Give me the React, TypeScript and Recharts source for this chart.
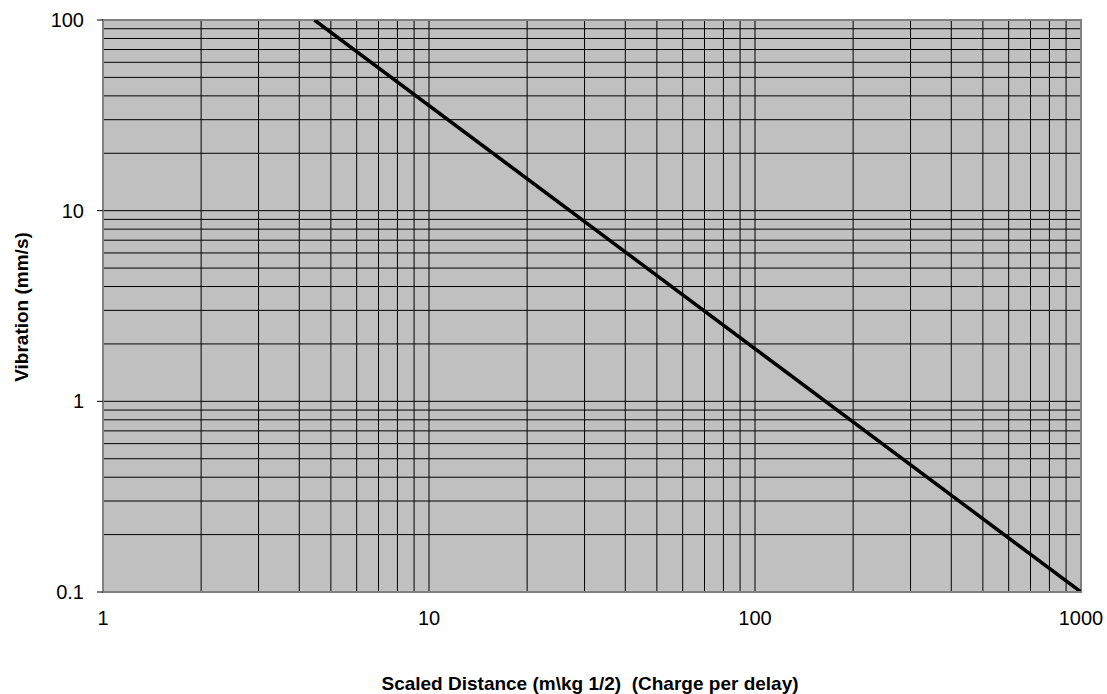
import {
  LineChart,
  Line,
  XAxis,
  YAxis,
  CartesianGrid,
  ReferenceArea,
} from "recharts";

// scaled distance (m\kg 1/2) vs vibration (mm/s), straight line on log-log
const distance = [4.45, 1000];
const vibration = [100, 0.1];

const xTicks = [1, 10, 100, 1000];
const yTicks = [0.1, 1, 10, 100];

const xGrid = [
  1, 2, 3, 4, 5, 6, 7, 8, 9, 10,
  20, 30, 40, 50, 60, 70, 80, 90, 100,
  200, 300, 400, 500, 600, 700, 800, 900, 1000,
];
const yGrid = [
  0.1, 0.2, 0.3, 0.4, 0.5, 0.6, 0.7, 0.8, 0.9, 1,
  2, 3, 4, 5, 6, 7, 8, 9, 10,
  20, 30, 40, 50, 60, 70, 80, 90, 100,
];

const chartData = distance.map((sd, i) => ({ sd, v: vibration[i] }));

const font = "'Liberation Sans', Arial, sans-serif";

export default function App() {
  return (
    // pinned to the page corner so the body margin adds no scrollbar
    <div
      style={{
        position: "absolute",
        left: 0,
        top: 0,
        width: 1107,
        height: 694,
        background: "#fff",
        fontFamily: font,
      }}
    >
      <LineChart
        width={1107}
        height={694}
        data={chartData}
        margin={{ top: 20, right: 26, bottom: 0, left: 0 }}
      >
        <CartesianGrid
          fill="#c0c0c0"
          stroke="#000"
          strokeWidth={1}
          horizontalValues={yGrid}
          verticalValues={xGrid}
        />
        <XAxis
          dataKey="sd"
          type="number"
          scale="log"
          domain={[1, 1000]}
          ticks={xTicks}
          allowDataOverflow
          height={102}
          tickLine={false}
          tickSize={0}
          tickMargin={19}
          axisLine={{ stroke: "#808080", strokeWidth: 2 }}
          tick={{ fill: "#000", fontSize: 20, fontFamily: font }}
          interval={0}
          label={{
            content: () => (
              <text
                x={590}
                y={690}
                textAnchor="middle"
                fontWeight="bold"
                fontSize={19}
                fontFamily={font}
                fill="#000"
                style={{ whiteSpace: "pre" }}
              >
                {"Scaled Distance (m\\kg 1/2)  (Charge per delay)"}
              </text>
            ),
          }}
        />
        <YAxis
          type="number"
          scale="log"
          domain={[0.1, 100]}
          ticks={yTicks}
          allowDataOverflow
          width={103}
          tickSize={6}
          tickMargin={13}
          tickLine={{ stroke: "#000" }}
          axisLine={{ stroke: "#808080", strokeWidth: 2 }}
          tick={{ fill: "#000", fontSize: 20, fontFamily: font }}
          tickFormatter={(v) => String(v)}
          interval={0}
          label={{
            content: () => (
              <text
                x={28}
                y={307}
                transform="rotate(-90, 28, 307)"
                textAnchor="middle"
                fontWeight="bold"
                fontSize={19}
                fontFamily={font}
                fill="#000"
              >
                Vibration (mm/s)
              </text>
            ),
          }}
        />
        <ReferenceArea
          x1={1}
          x2={1000}
          y1={0.1}
          y2={100}
          fill="none"
          stroke="#808080"
          strokeWidth={2}
          fillOpacity={0}
        />
        <Line
          dataKey="v"
          stroke="#000"
          strokeWidth={3.5}
          dot={false}
          isAnimationActive={false}
        />
      </LineChart>
    </div>
  );
}
